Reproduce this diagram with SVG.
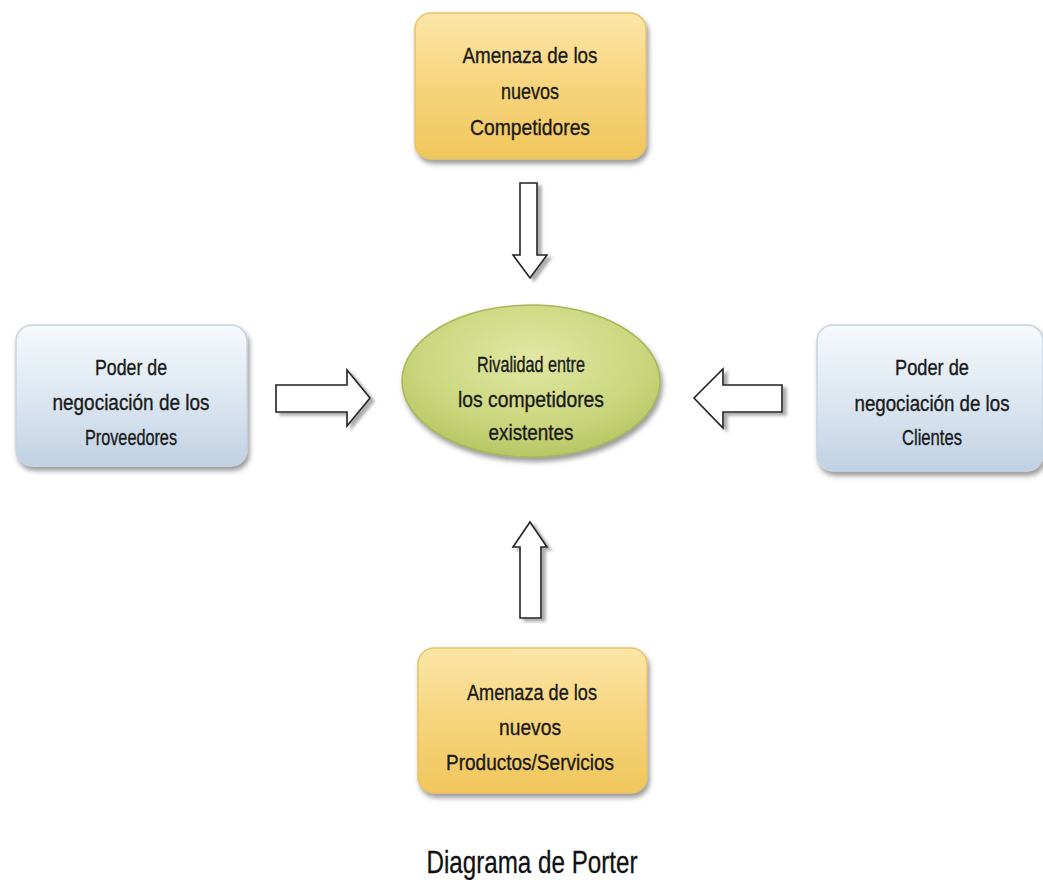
<svg xmlns="http://www.w3.org/2000/svg" width="1043" height="880" viewBox="0 0 1043 880">
<defs>
<linearGradient id="gOrange" x1="0" y1="0" x2="0" y2="1">
<stop offset="0" stop-color="#fbe6a8"/>
<stop offset="0.5" stop-color="#f7d47c"/>
<stop offset="1" stop-color="#f0c65c"/>
</linearGradient>
<linearGradient id="gBlue" x1="0" y1="0" x2="0" y2="1">
<stop offset="0" stop-color="#f6f9fc"/>
<stop offset="0.5" stop-color="#dde7f1"/>
<stop offset="1" stop-color="#c0d1e4"/>
</linearGradient>
<radialGradient id="gGreen" cx="0.5" cy="0.35" r="0.7">
<stop offset="0" stop-color="#e0e8a4"/>
<stop offset="0.6" stop-color="#cbd77e"/>
<stop offset="1" stop-color="#b2c35e"/>
</radialGradient>
<filter id="shadow" x="-10%" y="-10%" width="125%" height="130%">
<feDropShadow dx="2" dy="4" stdDeviation="2.5" flood-color="#555" flood-opacity="0.6"/>
</filter>
<filter id="ashadow" x="-20%" y="-20%" width="150%" height="150%">
<feDropShadow dx="4" dy="3" stdDeviation="1.5" flood-color="#777" flood-opacity="0.6"/>
</filter>
</defs>
<style>
.orange{fill:url(#gOrange);stroke:#e6c46a;stroke-width:1.5;filter:url(#shadow)}
.blue{fill:url(#gBlue);stroke:#c8d3df;stroke-width:1.5;filter:url(#shadow)}
.green{fill:url(#gGreen);stroke:#a7b85a;stroke-width:1.5;filter:url(#shadow)}
.t{font-family:"Liberation Sans",Arial,sans-serif;font-size:22px;fill:#1a1a1a;stroke:#1a1a1a;stroke-width:0.35;text-anchor:middle}
.cap{font-family:"Liberation Sans",Arial,sans-serif;font-size:32px;fill:#111;stroke:#111;stroke-width:0.3;text-anchor:middle}
.arrow{fill:#fff;stroke:#222;stroke-width:1.6;stroke-linejoin:miter;filter:url(#ashadow)}
</style>
<rect width="1043" height="880" fill="#fff"/>

<g id="connectors">
<polygon class="arrow" points="520,183 537,183 537,255 547,255 530,278 513,255 520,255"/>
<polygon class="arrow" points="276,385 347,385 347,370 370,398 347,426 347,412 276,412"/>
<polygon class="arrow" points="782,385 723,385 723,369 694,398 723,428 723,412 782,412"/>
<polygon class="arrow" points="530,522 547,547 541,547 541,618 520,618 520,547 513,547"/>
</g>

<g id="amenaza-competidores">
<rect class="orange" x="415" y="13" width="231" height="146" rx="16"/>
<text class="t" x="530" y="63" textLength="135" lengthAdjust="spacingAndGlyphs">Amenaza de los</text>
<text class="t" x="530" y="99" textLength="58" lengthAdjust="spacingAndGlyphs">nuevos</text>
<text class="t" x="530" y="135" textLength="120" lengthAdjust="spacingAndGlyphs">Competidores</text>
</g>

<g id="proveedores">
<rect class="blue" x="16" y="325" width="231" height="141" rx="16"/>
<text class="t" x="131" y="375" textLength="72" lengthAdjust="spacingAndGlyphs">Poder de</text>
<text class="t" x="131" y="410" textLength="157" lengthAdjust="spacingAndGlyphs">negociación de los</text>
<text class="t" x="131" y="445" textLength="92" lengthAdjust="spacingAndGlyphs">Proveedores</text>
</g>

<g id="rivalidad">
<ellipse class="green" cx="531" cy="381" rx="129" ry="76"/>
<text class="t" x="531" y="372" textLength="108" lengthAdjust="spacingAndGlyphs">Rivalidad entre</text>
<text class="t" x="531" y="407" textLength="146" lengthAdjust="spacingAndGlyphs">los competidores</text>
<text class="t" x="531" y="440" textLength="85" lengthAdjust="spacingAndGlyphs">existentes</text>
</g>

<g id="clientes">
<rect class="blue" x="817" y="325" width="226" height="146" rx="16"/>
<text class="t" x="932" y="375" textLength="74" lengthAdjust="spacingAndGlyphs">Poder de</text>
<text class="t" x="932" y="411" textLength="155" lengthAdjust="spacingAndGlyphs">negociación de los</text>
<text class="t" x="932" y="445" textLength="60" lengthAdjust="spacingAndGlyphs">Clientes</text>
</g>

<g id="amenaza-productos">
<rect class="orange" x="418" y="648" width="229" height="145" rx="16"/>
<text class="t" x="532" y="700" textLength="130" lengthAdjust="spacingAndGlyphs">Amenaza de los</text>
<text class="t" x="530" y="735" textLength="62" lengthAdjust="spacingAndGlyphs">nuevos</text>
<text class="t" x="530" y="770" textLength="168" lengthAdjust="spacingAndGlyphs">Productos/Servicios</text>
</g>

<g id="caption">
<text class="cap" x="532" y="873" textLength="211" lengthAdjust="spacingAndGlyphs">Diagrama de Porter</text>
</g>
</svg>
